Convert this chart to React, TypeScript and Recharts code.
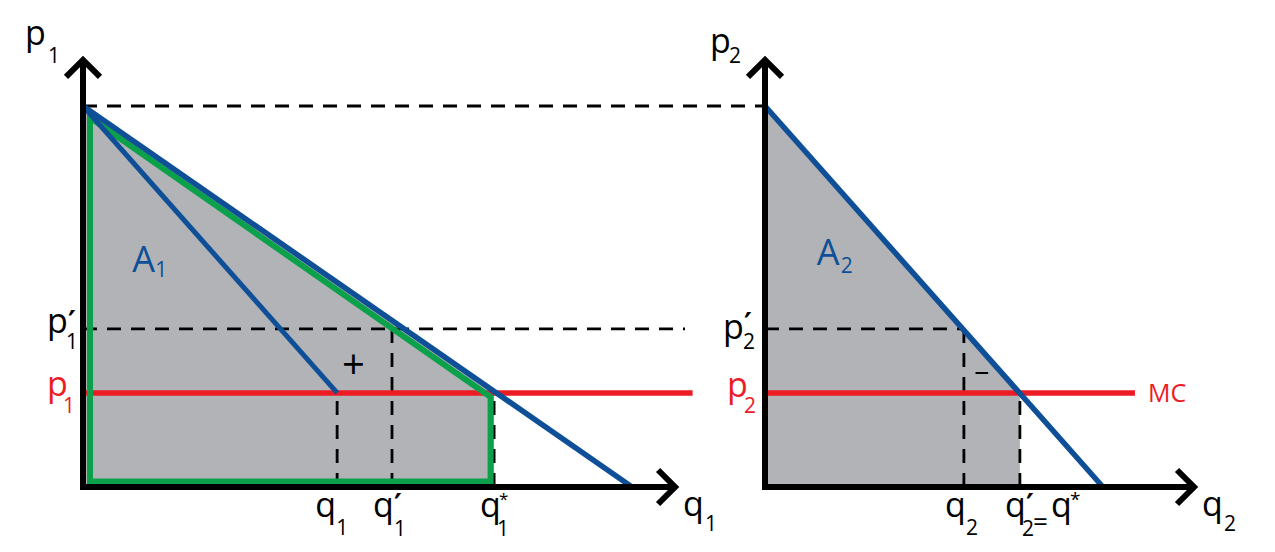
import React from 'react';
import { ComposedChart, XAxis, YAxis, Line, Area, ReferenceLine, ReferenceDot } from 'recharts';

// ---------------- DATA (model units: quantity q, price p) ----------------
const chokePrice = 10;

// Market 1
const demand1 = [{ q: 0, p: 10 }, { q: 14.41, p: 0 }];
const partialDemand1 = [{ q: 0, p: 10 }, { q: 6.67, p: 2.47 }];
const surplus1 = [{ q: 0, p: 10 }, { q: 10.79, p: 2.47 }];
const quantities1 = [6.67, 8.11, 10.79]; // q1, q1', q1*
const prices1 = [4.15, 2.47]; // p1', p1
const qTickLabels1 = [
  { m: 'q', sup: '', sub: '1' },
  { m: 'q', sup: '′', sub: '1' },
  { m: 'q', sup: '*', sub: '1' },
];
const pTickLabels1 = [
  { m: 'p', sup: '′', sub: '1' },
  { m: 'p', sup: '', sub: '1' },
];

// Market 2
const demand2 = [{ q: 0, p: 10 }, { q: 8.87, p: 0 }];
const surplus2 = [{ q: 0, p: 10 }, { q: 6.69, p: 2.47 }];
const quantities2 = [5.22, 6.69]; // q2, q2' (= q*)
const prices2 = [4.15, 2.47]; // p2', p2
const qTickLabels2 = [
  { m: 'q', sup: '', sub: '2' },
  { m: 'q', sup: '′', sub: '2' },
];
const pTickLabels2 = [
  { m: 'p', sup: '′', sub: '2' },
  { m: 'p', sup: '', sub: '2' },
];

// extents of drawn lines and axes (model units)
const mcLineEnd = [16.0, 9.71];
const pPrimeLineEnd1 = 15.8;
const axisEndQ = [15.54, 11.26];
const axisEndP = [11.21, 11.21];
const axisTitles = [
  { p: { m: 'p', sup: '', sub: '1' }, q: { m: 'q', sup: '', sub: '1' } },
  { p: { m: 'p', sup: '', sub: '2' }, q: { m: 'q', sup: '', sub: '2' } },
];
const areaLabels = [
  { q: 1.29, p: 5.64, text: 'A', sub: '1' },
  { q: 1.36, p: 5.83, text: 'A', sub: '2' },
];
const signLabels = [
  { q: 7.11, p: 3.18, text: '+' },
  { q: 5.7, p: 2.99, text: '–' },
];
const mcLabel = 'MC';

// ---------------- STYLE / LAYOUT ----------------
const PX = 38.1; // pixels per model unit (both axes)
const H = 552;
const PLOT_TOP = 20;
const ORIGIN_Y = 487;
const Y_MAX = (ORIGIN_Y - PLOT_TOP) / PX;
const L_MARGIN_1 = 83;
const W_1 = 765;
const X_MAX_1 = (W_1 - L_MARGIN_1) / PX;
const LEFT_2 = 680;
const L_MARGIN_2 = 85;
const W_2 = 1275 - LEFT_2;
const X_MAX_2 = (W_2 - L_MARGIN_2) / PX;

const FONT = "'Open Sans', 'Noto Sans', sans-serif";
const PRIME_FONT = "'DejaVu Sans', sans-serif";
const BLUE = '#0E4F97';
const GREEN = '#0BA04A';
const RED = '#ED1C24';
const GRAY = '#B2B3B6';
const BLACK = '#000000';
const DASH = '14 10';
const DASH_W = 2.8;
const AXIS_W = 6;

type Part = { t: string; x: number; y: number; fs: number; font?: string; fw?: string };

const textShape = (parts: Part[], color: string) => (props: any) => {
  const { cx, cy } = props;
  if (cx == null || cy == null) return <g />;
  return (
    <g>
      {parts.map((pt, i) => (
        <text
          key={i}
          x={cx + pt.x}
          y={cy + pt.y}
          fontSize={pt.fs}
          fill={color}
          fontFamily={pt.font ?? FONT}
          fontWeight={pt.fw ?? 'normal'}
        >
          {pt.t}
        </text>
      ))}
    </g>
  );
};

type SymOpts = {
  x: number;
  y: number;
  subX: number;
  subY: number;
  supX?: number;
  supY?: number;
  supFs?: number;
  fs?: number;
  subFs?: number;
};

function sym(lbl: { m: string; sup: string; sub: string }, o: SymOpts): Part[] {
  const fs = o.fs ?? 34;
  const parts: Part[] = [{ t: lbl.m, x: o.x, y: o.y, fs }];
  if (lbl.sup === '′')
    parts.push({
      t: '′',
      x: o.x + (o.supX ?? 21),
      y: o.y + (o.supY ?? -1),
      fs: o.supFs ?? 30,
      font: PRIME_FONT,
      fw: 'bold',
    });
  if (lbl.sup === '*')
    parts.push({ t: '*', x: o.x + (o.supX ?? 19), y: o.y + (o.supY ?? -12), fs: o.supFs ?? 17 });
  if (lbl.sub) parts.push({ t: lbl.sub, x: o.x + o.subX, y: o.y + o.subY, fs: o.subFs ?? 21 });
  return parts;
}

const arrowUp = (props: any) => (
  <path
    d={`M${props.cx - 17},${props.cy + 17} L${props.cx},${props.cy} L${props.cx + 17},${props.cy + 17}`}
    fill="none"
    stroke={BLACK}
    strokeWidth={AXIS_W}
    strokeLinejoin="miter"
  />
);
const arrowRight = (props: any) => (
  <path
    d={`M${props.cx - 17},${props.cy - 17} L${props.cx},${props.cy} L${props.cx - 17},${props.cy + 17}`}
    fill="none"
    stroke={BLACK}
    strokeWidth={AXIS_W}
    strokeLinejoin="miter"
  />
);

// green border inset inside the surplus polygon (pixel insets converted to model units)
function insetPolygon(top: { q: number; p: number }[], inset: { l: number; b: number; r: number; t: number }) {
  const [a, b] = top;
  const m = (b.p - a.p) / (b.q - a.q);
  const l = inset.l / PX;
  const bo = inset.b / PX;
  const r = inset.r / PX;
  const t = inset.t / PX;
  const c = a.p - t * Math.sqrt(1 + m * m);
  const xL = a.q + l;
  const xR = b.q - r;
  const yTL = c + m * (xL - a.q);
  const yTR = c + m * (xR - a.q);
  const mid = (xL + xR) / 2;
  return [
    { q: mid, p: bo },
    { q: xR, p: bo },
    { q: xR, p: yTR },
    { q: xL, p: yTL },
    { q: xL, p: bo },
    { q: mid, p: bo },
  ];
}

const greenBorder = insetPolygon(surplus1, { l: 7, b: 5.5, r: 3.5, t: 5.5 });

const dashProps = { stroke: BLACK, strokeWidth: DASH_W, strokeDasharray: DASH, ifOverflow: 'visible' as const };

function LeftPanel() {
  const xTickOpts: SymOpts[] = [
    { x: -22, y: 30, subX: 21, subY: 18 },
    { x: -19, y: 30, subX: 21, subY: 19, supX: 21, supY: -2 },
    { x: -14, y: 30, subX: 17, subY: 19, supX: 19, supY: -12 },
  ];
  const yTickOpts: SymOpts[] = [
    { x: -36, y: 4, subX: 19, subY: 16, supX: 21, supY: -1 },
    { x: -36, y: 3, subX: 16, subY: 17 },
  ];
  return (
    <ComposedChart
      width={W_1}
      height={H}
      margin={{ top: PLOT_TOP, right: 0, bottom: H - ORIGIN_Y, left: L_MARGIN_1 }}
    >
      <XAxis type="number" dataKey="q" domain={[0, X_MAX_1]} hide />
      <YAxis type="number" dataKey="p" domain={[0, Y_MAX]} hide />
      <Area
        data={surplus1}
        dataKey="p"
        type="linear"
        stroke="none"
        fill={GRAY}
        fillOpacity={1}
        isAnimationActive={false}
        zIndex={100}
      />
      <ReferenceLine y={chokePrice} {...dashProps} zIndex={200} />
      <ReferenceLine
        segment={[{ x: 0, y: prices1[0] }, { x: pPrimeLineEnd1, y: prices1[0] }]}
        {...dashProps}
        zIndex={200}
      />
      <ReferenceLine segment={[{ x: quantities1[0], y: 0 }, { x: quantities1[0], y: prices1[1] }]} {...dashProps} zIndex={200} />
      <ReferenceLine segment={[{ x: quantities1[1], y: 0 }, { x: quantities1[1], y: prices1[0] }]} {...dashProps} zIndex={200} />
      <ReferenceLine segment={[{ x: quantities1[2], y: 0 }, { x: quantities1[2], y: prices1[1] }]} {...dashProps} zIndex={200} />
      <ReferenceLine
        segment={[{ x: 0, y: prices1[1] }, { x: mcLineEnd[0], y: prices1[1] }]}
        stroke={RED}
        strokeWidth={5.5}
        ifOverflow="visible"
        zIndex={300}
      />
      <Line
        data={greenBorder}
        dataKey="p"
        type="linear"
        stroke={GREEN}
        strokeWidth={6}
        dot={false}
        activeDot={false}
        strokeLinejoin="miter"
        isAnimationActive={false}
        zIndex={400}
      />
      <Line
        data={partialDemand1}
        dataKey="p"
        type="linear"
        stroke={BLUE}
        strokeWidth={5}
        dot={false}
        activeDot={false}
        isAnimationActive={false}
        zIndex={500}
      />
      <Line
        data={demand1}
        dataKey="p"
        type="linear"
        stroke={BLUE}
        strokeWidth={5.5}
        dot={false}
        activeDot={false}
        isAnimationActive={false}
        zIndex={500}
      />
      <ReferenceLine
        segment={[{ x: 0, y: -3 / PX }, { x: 0, y: axisEndP[0] }]}
        stroke={BLACK}
        strokeWidth={AXIS_W}
        ifOverflow="visible"
        zIndex={600}
      />
      <ReferenceLine
        segment={[{ x: -3 / PX, y: 0 }, { x: axisEndQ[0], y: 0 }]}
        stroke={BLACK}
        strokeWidth={AXIS_W}
        ifOverflow="visible"
        zIndex={600}
      />
      <ReferenceDot x={0} y={axisEndP[0]} r={0} ifOverflow="visible" shape={arrowUp} zIndex={650} />
      <ReferenceDot x={axisEndQ[0]} y={0} r={0} ifOverflow="visible" shape={arrowRight} zIndex={650} />

      {quantities1.map((q, i) => (
        <ReferenceDot
          key={'qt' + i}
          x={q}
          y={0}
          r={0}
          ifOverflow="visible"
          shape={textShape(sym(qTickLabels1[i], xTickOpts[i]), BLACK)}
          zIndex={700}
        />
      ))}
      {prices1.map((p, i) => (
        <ReferenceDot
          key={'pt' + i}
          x={0}
          y={p}
          r={0}
          ifOverflow="visible"
          shape={textShape(sym(pTickLabels1[i], yTickOpts[i]), i === 1 ? RED : BLACK)}
          zIndex={700}
        />
      ))}
      <ReferenceDot
        x={0}
        y={axisEndP[0]}
        r={0}
        ifOverflow="visible"
        shape={textShape(sym(axisTitles[0].p, { x: -58, y: -15, subX: 23, subY: 18 }), BLACK)}
        zIndex={700}
      />
      <ReferenceDot
        x={axisEndQ[0]}
        y={0}
        r={0}
        ifOverflow="visible"
        shape={textShape(sym(axisTitles[0].q, { x: 8, y: 29, subX: 22, subY: 15 }), BLACK)}
        zIndex={700}
      />
      <ReferenceDot
        x={areaLabels[0].q}
        y={areaLabels[0].p}
        r={0}
        ifOverflow="visible"
        shape={textShape(
          [
            { t: areaLabels[0].text, x: 0, y: 0, fs: 36 },
            { t: areaLabels[0].sub, x: 23, y: 5, fs: 21 },
          ],
          BLUE,
        )}
        zIndex={700}
      />
      <ReferenceDot
        x={signLabels[0].q}
        y={signLabels[0].p}
        r={0}
        ifOverflow="visible"
        shape={textShape([{ t: signLabels[0].text, x: -12, y: 13, fs: 40 }], BLACK)}
        zIndex={700}
      />
    </ComposedChart>
  );
}

function RightPanel() {
  const yTickOpts: SymOpts[] = [
    { x: -42, y: 10, subX: 20, subY: 10, supX: 21, supY: -5 },
    { x: -38, y: 4, subX: 17, subY: 16 },
  ];
  return (
    <ComposedChart
      width={W_2}
      height={H}
      margin={{ top: PLOT_TOP, right: 0, bottom: H - ORIGIN_Y, left: L_MARGIN_2 }}
    >
      <XAxis type="number" dataKey="q" domain={[0, X_MAX_2]} hide />
      <YAxis type="number" dataKey="p" domain={[0, Y_MAX]} hide />
      <Area
        data={surplus2}
        dataKey="p"
        type="linear"
        stroke="none"
        fill={GRAY}
        fillOpacity={1}
        isAnimationActive={false}
        zIndex={100}
      />
      <ReferenceLine
        segment={[{ x: 0, y: prices2[0] }, { x: quantities2[0], y: prices2[0] }]}
        {...dashProps}
        zIndex={200}
      />
      <ReferenceLine segment={[{ x: quantities2[0], y: 0 }, { x: quantities2[0], y: prices2[0] }]} {...dashProps} zIndex={200} />
      <ReferenceLine segment={[{ x: quantities2[1], y: 0 }, { x: quantities2[1], y: prices2[1] }]} {...dashProps} zIndex={200} />
      <ReferenceLine
        segment={[{ x: 0, y: prices2[1] }, { x: mcLineEnd[1], y: prices2[1] }]}
        stroke={RED}
        strokeWidth={5.5}
        ifOverflow="visible"
        zIndex={300}
      />
      <Line
        data={demand2}
        dataKey="p"
        type="linear"
        stroke={BLUE}
        strokeWidth={5.5}
        dot={false}
        activeDot={false}
        isAnimationActive={false}
        zIndex={500}
      />
      <ReferenceLine
        segment={[{ x: 0, y: -3 / PX }, { x: 0, y: axisEndP[1] }]}
        stroke={BLACK}
        strokeWidth={AXIS_W}
        ifOverflow="visible"
        zIndex={600}
      />
      <ReferenceLine
        segment={[{ x: -3 / PX, y: 0 }, { x: axisEndQ[1], y: 0 }]}
        stroke={BLACK}
        strokeWidth={AXIS_W}
        ifOverflow="visible"
        zIndex={600}
      />
      <ReferenceDot x={0} y={axisEndP[1]} r={0} ifOverflow="visible" shape={arrowUp} zIndex={650} />
      <ReferenceDot x={axisEndQ[1]} y={0} r={0} ifOverflow="visible" shape={arrowRight} zIndex={650} />

      <ReferenceDot
        x={quantities2[0]}
        y={0}
        r={0}
        ifOverflow="visible"
        shape={textShape(sym(qTickLabels2[0], { x: -19, y: 30, subX: 21, subY: 18 }), BLACK)}
        zIndex={700}
      />
      <ReferenceDot
        x={quantities2[1]}
        y={0}
        r={0}
        ifOverflow="visible"
        shape={textShape(
          [
            ...sym(qTickLabels2[1], { x: -15, y: 30, subX: 17, subY: 19, supX: 21, supY: -2 }),
            { t: '=', x: 13, y: 44, fs: 26 },
            ...sym({ m: 'q', sup: '*', sub: '' }, { x: 31, y: 30, subX: 0, subY: 0, supX: 19, supY: -11, supFs: 19 }),
          ],
          BLACK,
        )}
        zIndex={700}
      />
      {prices2.map((p, i) => (
        <ReferenceDot
          key={'pt' + i}
          x={0}
          y={p}
          r={0}
          ifOverflow="visible"
          shape={textShape(sym(pTickLabels2[i], yTickOpts[i]), i === 1 ? RED : BLACK)}
          zIndex={700}
        />
      ))}
      <ReferenceDot
        x={0}
        y={axisEndP[1]}
        r={0}
        ifOverflow="visible"
        shape={textShape(sym(axisTitles[1].p, { x: -55, y: -7, subX: 19, subY: 10 }), BLACK)}
        zIndex={700}
      />
      <ReferenceDot
        x={axisEndQ[1]}
        y={0}
        r={0}
        ifOverflow="visible"
        shape={textShape(sym(axisTitles[1].q, { x: 8, y: 29, subX: 22, subY: 15 }), BLACK)}
        zIndex={700}
      />
      <ReferenceDot
        x={areaLabels[1].q}
        y={areaLabels[1].p}
        r={0}
        ifOverflow="visible"
        shape={textShape(
          [
            { t: areaLabels[1].text, x: 0, y: 0, fs: 36 },
            { t: areaLabels[1].sub, x: 24, y: 8, fs: 21 },
          ],
          BLUE,
        )}
        zIndex={700}
      />
      <ReferenceDot
        x={signLabels[1].q}
        y={signLabels[1].p}
        r={0}
        ifOverflow="visible"
        shape={textShape([{ t: signLabels[1].text, x: -8, y: 8, fs: 30 }], BLACK)}
        zIndex={700}
      />
      <ReferenceDot
        x={mcLineEnd[1]}
        y={prices2[1]}
        r={0}
        ifOverflow="visible"
        shape={textShape([{ t: mcLabel, x: 13, y: 9, fs: 25 }], RED)}
        zIndex={700}
      />
    </ComposedChart>
  );
}

export default function App() {
  return (
    <div style={{ position: 'absolute', left: 0, top: 0, width: 1275, height: H, background: '#ffffff', overflow: 'hidden' }}>
      <div style={{ position: 'absolute', left: 0, top: 0 }}>
        <LeftPanel />
      </div>
      <div style={{ position: 'absolute', left: LEFT_2, top: 0 }}>
        <RightPanel />
      </div>
    </div>
  );
}
